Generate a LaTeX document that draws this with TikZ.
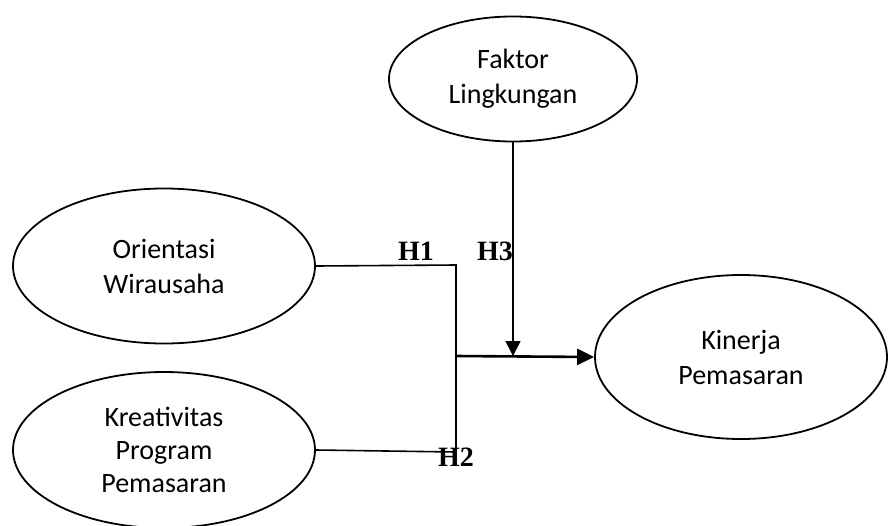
\documentclass[tikz,border=0pt]{standalone}
\usepackage{fontspec}
\setmainfont{Carlito}
\newfontfamily\hfont{Liberation Serif}
\usetikzlibrary{shapes.geometric,arrows.meta}

\begin{document}
\begin{tikzpicture}[x=1pt, y=-1pt,
    every node/.style={align=center, font=\fontsize{28}{35}\selectfont},
    konstruk/.style={draw, ellipse, line width=1.8pt, inner sep=0pt},
    hlabel/.style={font=\hfont\bfseries\fontsize{28}{30}\selectfont, inner sep=0pt, anchor=base west},
    garis/.style={line width=1.6pt}]
    \useasboundingbox (0,0) rectangle (888,525);
    \node[konstruk, minimum width=248, minimum height=125] (fl) at (513,79) {Faktor\\Lingkungan};
    \node[konstruk, minimum width=302, minimum height=155] (ow) at (164,266) {Orientasi\\Wirausaha};
    \node[konstruk, minimum width=302, minimum height=156, font=\fontsize{28}{33}\selectfont] (kp) at (164,450) {Kreativitas\\Program\\Pemasaran};
    \node[konstruk, minimum width=292, minimum height=164] (kin) at (741,357) {Kinerja\\Pemasaran};
    \coordinate (jt) at (456,265);
    \coordinate (jb) at (456,452);
    \coordinate (jm) at (456,356);
    \coordinate (h3) at (513,356);
    \draw[garis] (ow.east) -- (jt) -- (jb);
    \draw[garis] (kp.east) -- (jb);
    \draw[line width=2.6pt, -{Triangle[length=17pt, width=16pt]}] (jm) -- (kin.west);
    \draw[garis, -{Triangle[length=15pt, width=15pt]}] (fl.south) -- (h3);
    \node[hlabel] (h1l) at (398,260) {H1};
    \node[hlabel] (h3l) at (477,260) {H3};
    \node[hlabel] (h2l) at (438,466) {H2};
\end{tikzpicture}
\end{document}
